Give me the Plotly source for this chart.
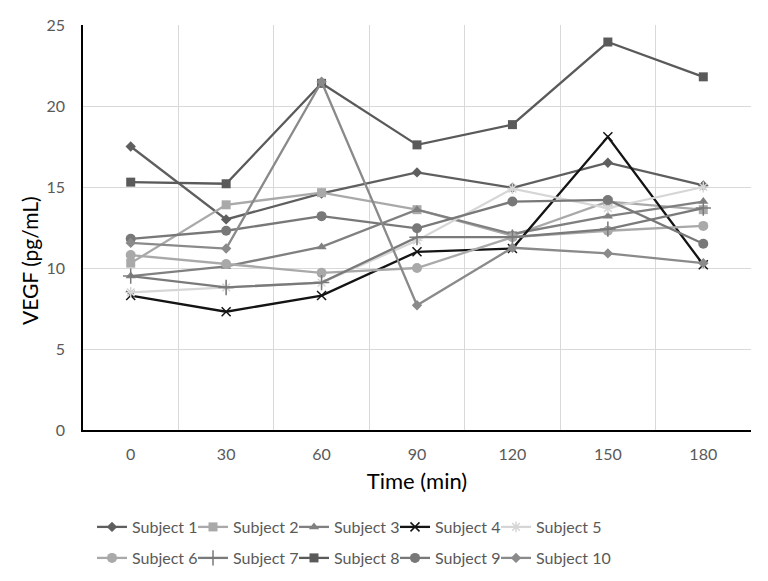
import plotly.graph_objects as go

times = ["0", "30", "60", "90", "120", "150", "180"]
subject_names = ["Subject 1", "Subject 2", "Subject 3", "Subject 4", "Subject 5",
                 "Subject 6", "Subject 7", "Subject 8", "Subject 9", "Subject 10"]

subject_1 = [17.5, 13.0, 14.6, 15.9, 14.95, 16.5, 15.1]
subject_2 = [10.3, 13.9, 14.65, 13.6, 12.0, 14.1, 13.6]
subject_3 = [9.5, 10.1, 11.3, 13.6, 12.1, 13.2, 14.1]
subject_4 = [8.3, 7.3, 8.3, 11.0, 11.2, 18.1, 10.2]
subject_5 = [8.5, 8.8, 9.1, 11.7, 14.9, 13.7, 15.0]
subject_6 = [10.8, 10.25, 9.7, 10.0, 11.9, 12.3, 12.6]
subject_7 = [9.5, 8.8, 9.1, 11.9, 11.9, 12.4, 13.7]
subject_8 = [15.3, 15.2, 21.4, 17.6, 18.85, 23.95, 21.8]
subject_9 = [11.8, 12.3, 13.2, 12.45, 14.1, 14.2, 11.5]
subject_10 = [11.55, 11.2, 21.5, 7.7, 11.25, 10.9, 10.3]

series = [subject_1, subject_2, subject_3, subject_4, subject_5,
          subject_6, subject_7, subject_8, subject_9, subject_10]

colors = ["#5f5f5f", "#a9a9a9", "#808080", "#141414", "#d6d6d6",
          "#a9a9a9", "#7a7a7a", "#5a5a5a", "#787878", "#8a8a8a"]
symbols = ["diamond", "square", "triangle-up", "x-thin-open", "asterisk-open",
           "circle", "cross-thin-open", "square", "circle", "diamond"]
sizes = [8, 9, 9, 9, 9, 10, 11, 9, 10, 8]

fig = go.Figure()
for i, (name, vals) in enumerate(zip(subject_names, series)):
    sym = symbols[i]
    open_sym = sym.endswith("-open")
    fig.add_trace(go.Scatter(
        x=times, y=vals, name=name, mode="lines+markers",
        line=dict(color=colors[i], width=2.3),
        marker=dict(symbol=sym, size=sizes[i], color=colors[i],
                    line=dict(color=colors[i], width=1.5 if open_sym else 0)),
        legend="legend" if i < 5 else "legend2",
    ))

# invisible spacer entries so the last legend label in each row is not clipped
for lg in ["legend", "legend2"]:
    fig.add_trace(go.Scatter(
        x=[None], y=[None], mode="lines", name=" ",
        line=dict(color="rgba(0,0,0,0)"), hoverinfo="skip", legend=lg,
    ))

W, H = 760, 573  # page body adds an 8px offset in the 768x581 window
font_family = "Lato, Open Sans, sans-serif"
legend_common = dict(orientation="h", xanchor="left", yanchor="middle",
                     xref="container", yref="container",
                     font=dict(size=16, color="#595959", family=font_family),
                     itemwidth=30, entrywidth=56, tracegroupgap=0,
                     bgcolor="rgba(0,0,0,0)")

fig.update_layout(
    width=W, height=H,
    margin=dict(l=75, r=17, t=17, b=151, autoexpand=False),
    plot_bgcolor="white", paper_bgcolor="white",
    font=dict(family=font_family, color="#595959"),
    showlegend=True,
    legend=dict(x=84 / W, y=1 - 519 / H, **legend_common),
    legend2=dict(x=84 / W, y=1 - 550 / H, **legend_common),
    xaxis=dict(
        type="category", range=[-0.5, 6.5], tickson="boundaries",
        showgrid=True, gridcolor="#d9d9d9", gridwidth=1,
        showline=True, linecolor="#000000", linewidth=1.5,
        ticks="", ticklabelstandoff=9,
        tickfont=dict(size=16, color="#595959"),
        title=dict(text="Time (min)", font=dict(size=22, color="#000000"), standoff=12),
    ),
    yaxis=dict(
        range=[0, 25], dtick=5, showgrid=True, gridcolor="#d9d9d9", gridwidth=1,
        showline=True, linecolor="#000000", linewidth=1.5, zeroline=False,
        ticks="", ticklabelstandoff=13,
        tickfont=dict(size=16, color="#595959"),
    ),
    annotations=[dict(
        text="VEGF (pg/mL)", textangle=-90, showarrow=False,
        xref="paper", yref="paper", x=-54 / 668, y=(405 - 236) / 405,
        xanchor="center", yanchor="middle",
        font=dict(size=21, color="#000000", family=font_family),
    )],
)

fig.write_html("out.html")
